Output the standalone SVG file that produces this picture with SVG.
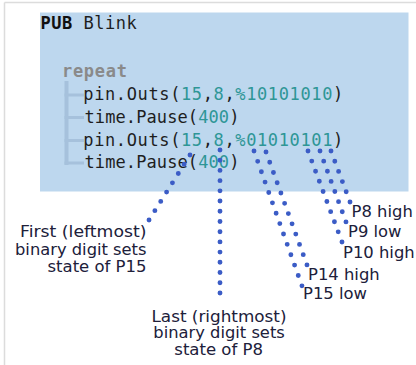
<svg xmlns="http://www.w3.org/2000/svg" width="416" height="365" viewBox="0 0 416 365">
<style>
.code{font-family:"DejaVu Sans Mono","Liberation Mono",monospace;font-size:17px;fill:#1e1e1e}
.num{fill:#2e9696}
.lbl{font-family:"DejaVu Sans","Liberation Sans",sans-serif;font-size:15.5px;fill:#20203a}
.dots line{stroke:#3b5cc6;stroke-width:4.9;stroke-linecap:round;fill:none}
.tree{fill:#a6c1dc}
</style>
<rect x="0" y="0" width="416" height="365" fill="#ffffff"/>
<line x1="4.5" y1="2.5" x2="416" y2="2.5" stroke="#dcdcdc" stroke-width="1.5"/>
<line x1="4.5" y1="2.5" x2="4.5" y2="365" stroke="#dcdcdc" stroke-width="1.5"/>
<g id="code-panel">
<rect x="40" y="12.5" width="368.5" height="179" fill="#bdd7ee"/>
<rect class="tree" x="64.5" y="81" width="4" height="84"/>
<rect class="tree" x="64.5" y="93.5" width="19.5" height="3"/>
<rect class="tree" x="64.5" y="116" width="19.5" height="3"/>
<rect class="tree" x="64.5" y="139" width="19.5" height="3"/>
<rect class="tree" x="64.5" y="161.5" width="19.5" height="3"/>
<text class="code" x="40.5" y="28.5" style="letter-spacing:0.5px"><tspan font-weight="bold" fill="#111">PUB</tspan> Blink</text>
<text class="code" x="62" y="76.7" font-weight="bold" style="letter-spacing:0.7px;fill:#8a8a8a">repeat</text>
<text class="code" x="83.3" y="100" style="letter-spacing:0.62px">pin.Outs(<tspan class="num">15</tspan>,<tspan class="num">8</tspan>,<tspan class="num">%10101010</tspan>)</text>
<text class="code" x="84.5" y="122.5" style="letter-spacing:0.1px">time.Pause(<tspan class="num">400</tspan>)</text>
<text class="code" x="83.3" y="145.5" style="letter-spacing:0.62px">pin.Outs(<tspan class="num">15</tspan>,<tspan class="num">8</tspan>,<tspan class="num">%01010101</tspan>)</text>
<text class="code" x="84.5" y="168" style="letter-spacing:0.1px">time.Pause(<tspan class="num">400</tspan>)</text>
</g>
<g id="connectors" class="dots">
<line x1="190" y1="155" x2="149" y2="220" stroke-dasharray="0 10.97"/>
<line x1="220" y1="150" x2="220" y2="293" stroke-dasharray="0 10.21"/>
<line x1="254" y1="151" x2="302" y2="286" stroke-dasharray="0 11.01"/>
<line x1="266" y1="152" x2="307" y2="265" stroke-dasharray="0 10.92"/>
<line x1="308" y1="151" x2="342" y2="242" stroke-dasharray="0 10.79"/>
<line x1="320" y1="151" x2="346" y2="222" stroke-dasharray="0 10.79"/>
<line x1="331" y1="151" x2="350" y2="202" stroke-dasharray="0 10.88"/>
</g>
<g id="label-first">
<text class="lbl" x="20" y="237.3" textLength="126.5" lengthAdjust="spacingAndGlyphs">First (leftmost)</text>
<text class="lbl" x="15" y="254.5" textLength="131.5" lengthAdjust="spacingAndGlyphs">binary digit sets</text>
<text class="lbl" x="47.5" y="271.7" textLength="99" lengthAdjust="spacingAndGlyphs">state of P15</text>
</g>
<g id="label-last">
<text class="lbl" x="151.5" y="321.5" textLength="135" lengthAdjust="spacingAndGlyphs">Last (rightmost)</text>
<text class="lbl" x="153.3" y="338" textLength="131.5" lengthAdjust="spacingAndGlyphs">binary digit sets</text>
<text class="lbl" x="174.3" y="354.5" textLength="88.7" lengthAdjust="spacingAndGlyphs">state of P8</text>
</g>
<g id="label-p8"><text class="lbl" x="351.5" y="217" textLength="61.3" lengthAdjust="spacingAndGlyphs">P8 high</text></g>
<g id="label-p9"><text class="lbl" x="348" y="237.3" textLength="53.5" lengthAdjust="spacingAndGlyphs">P9 low</text></g>
<g id="label-p10"><text class="lbl" x="343" y="257.5" textLength="71.7" lengthAdjust="spacingAndGlyphs">P10 high</text></g>
<g id="label-p14"><text class="lbl" x="308" y="280" textLength="71.7" lengthAdjust="spacingAndGlyphs">P14 high</text></g>
<g id="label-p15"><text class="lbl" x="303" y="299.3" textLength="64" lengthAdjust="spacingAndGlyphs">P15 low</text></g>
</svg>
